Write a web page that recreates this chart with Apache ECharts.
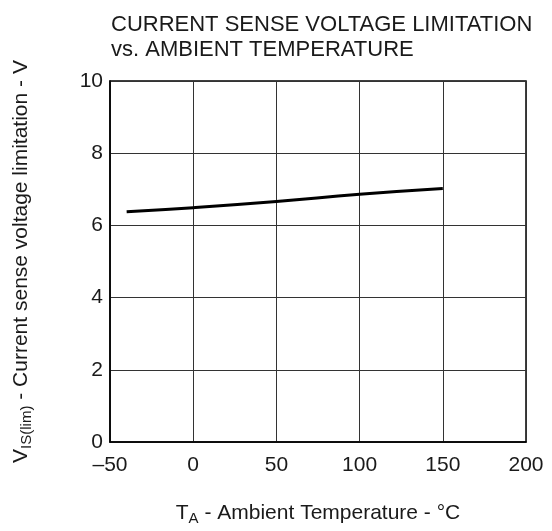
<!DOCTYPE html>
<html>
<head>
<meta charset="utf-8">
<script src="https://cdn.jsdelivr.net/npm/echarts@6/dist/echarts.min.js"></script>
<style>
  html, body { margin: 0; padding: 0; background: #fff; }
  #main { width: 552px; height: 531px; }
</style>
</head>
<body>
<div id="main"></div>
<script>
// temperature (°C) and current sense voltage limitation (V)
var temps = [-40, 0, 50, 100, 150];
var volts = [6.38, 6.49, 6.66, 6.86, 7.02];
var xTicks = [-50, 0, 50, 100, 150, 200];
var yTicks = [0, 2, 4, 6, 8, 10];

var chart = echarts.init(document.getElementById('main'));
var font = 'Liberation Sans, Arial, sans-serif';

var option = {
    backgroundColor: '#fff',
    animation: false,
    title: {
        text: 'CURRENT SENSE VOLTAGE LIMITATION\nvs. AMBIENT TEMPERATURE',
        left: 106,
        top: 7,
        textStyle: {
            fontFamily: font,
            fontSize: 22,
            fontWeight: 'normal',
            color: '#1a1a1a',
            lineHeight: 25
        }
    },
    grid: { left: 110, right: 26, top: 81, bottom: 87, show: true, borderColor: '#000', borderWidth: 1.5 },
    xAxis: {
        type: 'value',
        min: xTicks[0],
        max: xTicks[xTicks.length - 1],
        interval: 50,
        name: '{n|T}{s|A}{n| - Ambient Temperature - °C}',
        nameLocation: 'middle',
        nameGap: 59,
        nameTextStyle: {
            rich: {
                n: { fontFamily: font, fontSize: 21, color: '#1a1a1a' },
                s: { fontFamily: font, fontSize: 15, color: '#1a1a1a', verticalAlign: 'bottom', padding: [10, 0, 0, 0] }
            }
        },
        axisLine: { show: true, onZero: false, lineStyle: { color: '#000', width: 1.5 } },
        axisTick: { show: false },
        axisLabel: {
            fontFamily: font, fontSize: 21, color: '#1a1a1a', margin: 13,
            formatter: function (v) { return v < 0 ? '\u2013' + Math.abs(v) : String(v); }
        },
        splitLine: { show: true, lineStyle: { color: '#333', width: 1 } }
    },
    yAxis: {
        type: 'value',
        min: yTicks[0],
        max: yTicks[yTicks.length - 1],
        interval: 2,
        name: '{n|V}{s|IS(lim)}{n| - Current sense voltage limitation - V}',
        nameLocation: 'middle',
        nameRotate: 90,
        nameGap: 76,
        nameTextStyle: {
            rich: {
                n: { fontFamily: font, fontSize: 21, color: '#1a1a1a' },
                s: { fontFamily: font, fontSize: 15, color: '#1a1a1a', verticalAlign: 'bottom', padding: [10, 0, 0, 0] }
            }
        },
        axisLine: { show: true, onZero: false, lineStyle: { color: '#000', width: 1.5 } },
        axisTick: { show: false },
        axisLabel: { fontFamily: font, fontSize: 21, color: '#1a1a1a', margin: 7 },
        splitLine: { show: true, lineStyle: { color: '#333', width: 1 } }
    },
    series: [{
        type: 'line',
        data: temps.map(function (t, i) { return [t, volts[i]]; }),
        smooth: true,
        showSymbol: false,
        lineStyle: { color: '#000', width: 3 }
    }]
};
chart.setOption(option);
</script>
</body>
</html>
